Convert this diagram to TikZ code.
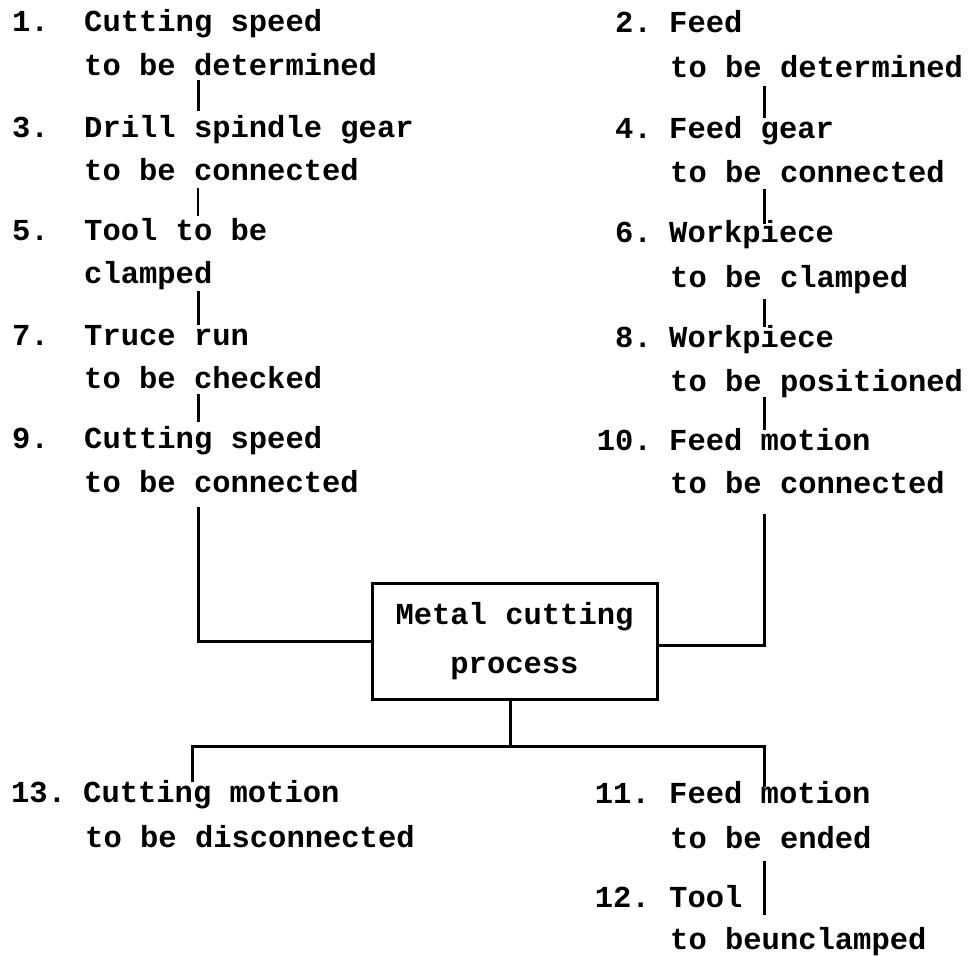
\documentclass[tikz,border=0pt]{standalone}
\usepackage{fontspec}
\setmonofont{Liberation Mono}
\begin{document}
\begin{tikzpicture}[x=1pt,y=-1pt,
  txt/.style={anchor=base west,inner sep=0pt,font=\ttfamily\bfseries\fontsize{30.5}{36}\selectfont},
  num/.style={txt},
  rnum/.style={anchor=base east,inner sep=0pt,font=\ttfamily\bfseries\fontsize{30.5}{36}\selectfont},
  conn/.style={line width=3pt,line cap=rect},
  procbox/.style={draw,line width=3pt,minimum width=285pt,minimum height=116pt,inner sep=0pt,align=center,
    font=\ttfamily\bfseries\fontsize{30.5}{49}\selectfont}]
\useasboundingbox (0,0) rectangle (968,955);
\fill[white] (0,0) rectangle (968,955);
% helper x positions
\coordinate (cl) at (198,0);
\coordinate (cr) at (764,0);
\coordinate (cbl) at (192,0);
\coordinate (hb) at (0,746);
% left column
\node[num] (Ln1) at (12,32) {1.};
\node[txt] (L1a) at (84,32) {Cutting speed};
\node[txt] (L1b) at (84,76) {to be determined};
\node[num] (Ln3) at (12,137) {3.};
\node[txt] (L3a) at (84,137) {Drill spindle gear};
\node[txt] (L3b) at (84,180) {to be connected};
\node[num] (Ln5) at (12,240) {5.};
\node[txt] (L5a) at (84,240) {Tool to be};
\node[txt] (L5b) at (84,283) {clamped};
\node[num] (Ln7) at (12,345) {7.};
\node[txt] (L7a) at (84,345) {Truce run};
\node[txt] (L7b) at (84,388) {to be checked};
\node[num] (Ln9) at (12,448) {9.};
\node[txt] (L9a) at (84,448) {Cutting speed};
\node[txt] (L9b) at (84,492) {to be connected};
% right column
\node[rnum] (Rn2) at (652,33) {2.};
\node[txt] (R2a) at (669,33) {Feed};
\node[txt] (R2b) at (670,78) {to be determined};
\node[rnum] (Rn4) at (652,138) {4.};
\node[txt] (R4a) at (669,138) {Feed gear};
\node[txt] (R4b) at (670,182) {to be connected};
\node[rnum] (Rn6) at (652,242) {6.};
\node[txt] (R6a) at (669,242) {Workpiece};
\node[txt] (R6b) at (670,287) {to be clamped};
\node[rnum] (Rn8) at (652,347) {8.};
\node[txt] (R8a) at (669,347) {Workpiece};
\node[txt] (R8b) at (670,391) {to be positioned};
\node[rnum] (Rn10) at (652,450) {10.};
\node[txt] (R10a) at (669,450) {Feed motion};
\node[txt] (R10b) at (670,493) {to be connected};
% central box
\node[procbox] (box) at (514.5,641) {Metal cutting\\process};
% bottom
\node[num] (Bn13) at (11,802) {13.};
\node[txt] (B13a) at (83,802) {Cutting motion};
\node[txt] (B13b) at (85,847) {to be disconnected};
\node[rnum] (Bn11) at (650,803) {11.};
\node[txt] (B11a) at (669,803) {Feed motion};
\node[txt] (B11b) at (670,848) {to be ended};
\node[rnum] (Bn12) at (650,907) {12.};
\node[txt] (B12a) at (669,907) {Tool};
\node[txt] (B12b) at (670,949) {to beunclamped};
% left connectors
\draw[conn] ([yshift=-6pt]L1b.base -| cl) -- ([yshift=27pt]L3a.base -| cl);
\draw[conn,line width=1.4pt] ([yshift=-9pt]L3b.base -| cl) -- ([yshift=25pt]L5a.base -| cl);
\draw[conn] ([yshift=-9pt]L5b.base -| cl) -- ([yshift=22pt]L7a.base -| cl);
\draw[conn] ([yshift=-7pt]L7b.base -| cl) -- ([yshift=28pt]L9a.base -| cl);
\draw[conn] ([yshift=-16pt]L9b.base -| cl) |- (box.west);
% right connectors
\draw[conn] ([yshift=-10pt]R2b.base -| cr) -- ([yshift=21pt]R4a.base -| cr);
\draw[conn] ([yshift=-8pt]R4b.base -| cr) -- ([yshift=20pt]R6a.base -| cr);
\draw[conn] ([yshift=-13pt]R6b.base -| cr) -- ([yshift=22pt]R8a.base -| cr);
\draw[conn] ([yshift=-7pt]R8b.base -| cr) -- ([yshift=22pt]R10a.base -| cr);
\draw[conn] ([yshift=-22pt]R10b.base -| cr) |- ([yshift=-4pt]box.east);
% bottom connectors
\draw[conn] (box.south -| 510,0) -- (510,746);
\draw[conn] ([yshift=22pt]B13a.base -| cbl) -- (cbl |- hb) -- (cr |- hb) -- ([yshift=18pt]B11a.base -| cr);
\draw[conn] ([yshift=-14pt]B11b.base -| cr) -- ([yshift=-6pt]B12a.base -| cr);
\end{tikzpicture}
\end{document}
